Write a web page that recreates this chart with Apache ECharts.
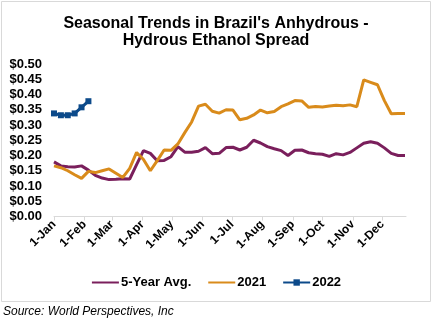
<!DOCTYPE html>
<html>
<head>
<meta charset="utf-8">
<script src="https://cdn.jsdelivr.net/npm/echarts@6/dist/echarts.min.js"></script>
<style>
  html, body { margin: 0; padding: 0; background: #fff; }
  #chart { width: 432px; height: 321px; }
</style>
</head>
<body>
<div id="chart"></div>
<script>
// Weekly observations, as day offsets from 1-Jan
const weekDays = [0,7,14,21,28,35,42,49,56,63,70,77,84,91,98,105,112,119,126,133,140,147,154,161,168,175,182,189,196,203,210,217,224,231,238,245,252,259,266,273,280,287,294,301,308,315,322,329,336,343,350,357];

// Anhydrous - hydrous spread, US$ per litre
const avg5yr = [0.179,0.166,0.163,0.162,0.166,0.152,0.135,0.126,0.121,0.122,0.124,0.123,0.170,0.216,0.207,0.183,0.184,0.196,0.229,0.211,0.211,0.214,0.226,0.206,0.207,0.226,0.227,0.218,0.227,0.250,0.241,0.229,0.222,0.216,0.200,0.217,0.218,0.209,0.206,0.204,0.197,0.206,0.202,0.210,0.225,0.240,0.245,0.240,0.225,0.207,0.200,0.200];
const y2021 = [0.166,0.160,0.150,0.137,0.125,0.148,0.144,0.150,0.156,0.142,0.128,0.158,0.210,0.187,0.150,0.183,0.218,0.217,0.238,0.275,0.310,0.362,0.368,0.345,0.339,0.350,0.349,0.317,0.322,0.333,0.349,0.340,0.344,0.360,0.369,0.380,0.379,0.358,0.361,0.359,0.362,0.365,0.363,0.366,0.360,0.448,0.440,0.432,0.380,0.337,0.338,0.338];
const y2022 = [0.338,0.332,0.332,0.338,0.358,0.378];

// Month-start tick positions and their labels
const monthDays = [0,31,59,90,120,151,181,212,243,273,304,334];
const monthLabels = ['1-Jan','1-Feb','1-Mar','1-Apr','1-May','1-Jun','1-Jul','1-Aug','1-Sep','1-Oct','1-Nov','1-Dec'];

const pair = (vals) => vals.map((v, i) => [weekDays[i], v]);

const FONT = 'Liberation Sans, Arial, sans-serif';
const chart = echarts.init(document.getElementById('chart'), null, { renderer: 'canvas' });

chart.setOption({
  animation: false,
  backgroundColor: '#ffffff',
  title: {
    text: "Seasonal Trends in Brazil's Anhydrous -\nHydrous Ethanol Spread",
    left: 'center',
    top: 10,
    textStyle: { fontFamily: FONT, fontSize: 16, fontWeight: 'bold', color: '#000', lineHeight: 17 }
  },
  legend: {
    top: 271,
    left: 'center',
    itemWidth: 27,
    itemHeight: 8,
    itemGap: 16,
    textStyle: { fontFamily: FONT, fontSize: 13, fontWeight: 'bold', color: '#000', padding: [0, 0, 0, -3] },
    data: [
      { name: '5-Year Avg.', itemStyle: { opacity: 0 } },
      { name: '2021', itemStyle: { opacity: 0 } },
      { name: '2022' }
    ]
  },
  grid: { left: 54, right: 26, top: 64, bottom: 104.5, containLabel: false },
  xAxis: {
    type: 'value',
    min: 0,
    max: 358,
    splitLine: { show: false },
    axisLine: { show: true, lineStyle: { color: '#d9d9d9', width: 1 } },
    axisTick: { show: true, length: 4, lineStyle: { color: '#d9d9d9' }, customValues: monthDays },
    axisLabel: {
      customValues: monthDays,
      rotate: 45,
      margin: 6,
      fontFamily: FONT, fontSize: 12, fontWeight: 'bold', color: '#000',
      formatter: (v) => monthLabels[monthDays.indexOf(v)]
    }
  },
  yAxis: {
    type: 'value',
    min: 0,
    max: 0.5,
    interval: 0.05,
    splitLine: { show: false },
    axisLine: { show: false },
    axisTick: { show: false },
    axisLabel: {
      margin: 12,
      fontFamily: FONT, fontSize: 13, fontWeight: 'bold', color: '#000',
      formatter: (v) => '$' + v.toFixed(2)
    }
  },
  series: [
    {
      name: '5-Year Avg.', type: 'line', data: pair(avg5yr),
      symbol: 'none', lineStyle: { color: '#7a1f5c', width: 3 }, itemStyle: { color: '#7a1f5c' }, z: 2
    },
    {
      name: '2021', type: 'line', data: pair(y2021),
      symbol: 'none', lineStyle: { color: '#d98b1b', width: 3 }, itemStyle: { color: '#d98b1b' }, z: 3
    },
    {
      name: '2022', type: 'line', data: pair(y2022),
      symbol: 'rect', symbolSize: 6, showSymbol: true,
      lineStyle: { color: '#0c4a8a', width: 3 }, itemStyle: { color: '#0c4a8a' }, z: 4
    }
  ],
  graphic: [
    {
      type: 'rect', silent: true, z: -1,
      shape: { x: 1.5, y: 1.5, width: 429, height: 300 },
      style: { fill: null, stroke: '#d9d9d9', lineWidth: 1 }
    },
    {
      type: 'text', left: 3, top: 306,
      style: { text: 'Source: World Perspectives, Inc', fontFamily: FONT, fontSize: 12, fontStyle: 'italic', fill: '#000' }
    }
  ]
});
</script>
</body>
</html>
